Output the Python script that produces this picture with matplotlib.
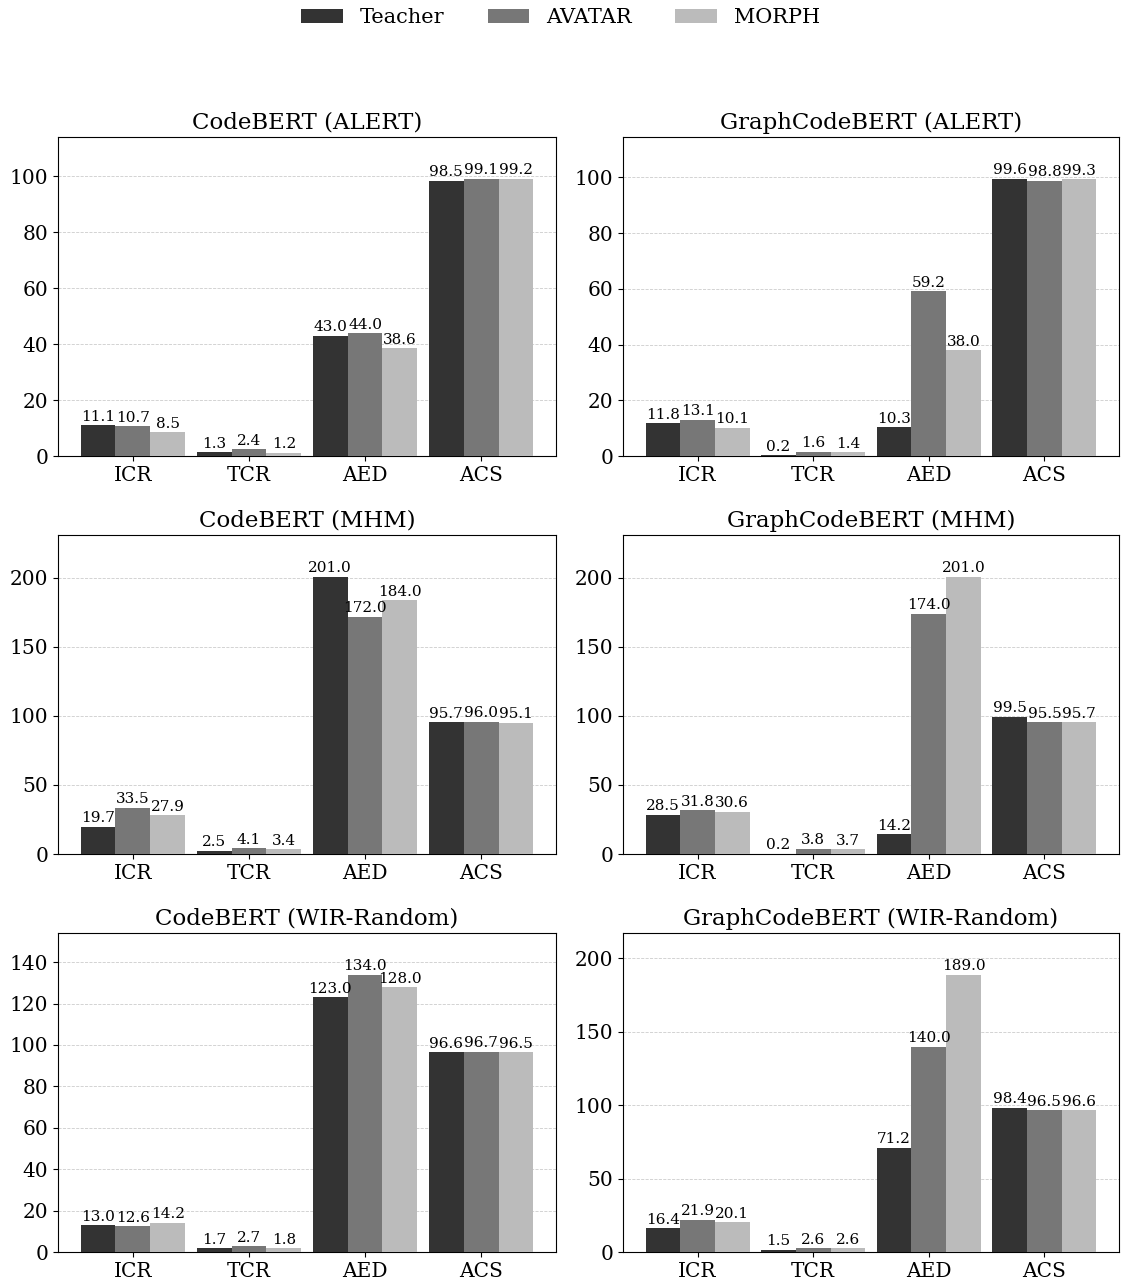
import numpy as np
import matplotlib
matplotlib.use("Agg")
import matplotlib.pyplot as plt
from matplotlib.ticker import MaxNLocator

plt.rcParams['font.family'] = 'DejaVu Serif'

# DATA
metrics = ["ICR", "TCR", "AED", "ACS"]
methods = ["Teacher", "AVATAR", "MORPH"]
colors = ["#333333", "#777777", "#bbbbbb"]

titles = ["CodeBERT (ALERT)", "GraphCodeBERT (ALERT)",
          "CodeBERT (MHM)", "GraphCodeBERT (MHM)",
          "CodeBERT (WIR-Random)", "GraphCodeBERT (WIR-Random)"]

cb_alert_teacher = [11.1, 1.3, 43.0, 98.5]
cb_alert_avatar = [10.7, 2.4, 44.0, 99.1]
cb_alert_morph = [8.5, 1.2, 38.6, 99.2]

gcb_alert_teacher = [11.8, 0.2, 10.3, 99.6]
gcb_alert_avatar = [13.1, 1.6, 59.2, 98.8]
gcb_alert_morph = [10.1, 1.4, 38.0, 99.3]

cb_mhm_teacher = [19.7, 2.5, 201.0, 95.7]
cb_mhm_avatar = [33.5, 4.1, 172.0, 96.0]
cb_mhm_morph = [27.9, 3.4, 184.0, 95.1]

gcb_mhm_teacher = [28.5, 0.2, 14.2, 99.5]
gcb_mhm_avatar = [31.8, 3.8, 174.0, 95.5]
gcb_mhm_morph = [30.6, 3.7, 201.0, 95.7]

cb_wir_teacher = [13.0, 1.7, 123.0, 96.6]
cb_wir_avatar = [12.6, 2.7, 134.0, 96.7]
cb_wir_morph = [14.2, 1.8, 128.0, 96.5]

gcb_wir_teacher = [16.4, 1.5, 71.2, 98.4]
gcb_wir_avatar = [21.9, 2.6, 140.0, 96.5]
gcb_wir_morph = [20.1, 2.6, 189.0, 96.6]

panels = [
    (cb_alert_teacher, cb_alert_avatar, cb_alert_morph),
    (gcb_alert_teacher, gcb_alert_avatar, gcb_alert_morph),
    (cb_mhm_teacher, cb_mhm_avatar, cb_mhm_morph),
    (gcb_mhm_teacher, gcb_mhm_avatar, gcb_mhm_morph),
    (cb_wir_teacher, cb_wir_avatar, cb_wir_morph),
    (gcb_wir_teacher, gcb_wir_avatar, gcb_wir_morph),
]

# LAYOUT (figure fractions)
W, H = 1121, 1285
col_x = [58 / W, 623 / W]
col_w = [498 / W, 496 / W]
row_bottom = [(H - 456) / H, (H - 854) / H, (H - 1252) / H]
row_h = 319 / H

fig = plt.figure(figsize=(W / 100, H / 100), dpi=100)

x = np.arange(len(metrics))
width = 0.3

for i, (title, series) in enumerate(zip(titles, panels)):
    r, c = divmod(i, 2)
    ax = fig.add_axes([col_x[c], row_bottom[r], col_w[c], row_h])
    for j, (vals, name, col) in enumerate(zip(series, methods, colors)):
        bars = ax.bar(x + (j - 1) * width, vals, width, color=col, label=name, zorder=3)
        ax.bar_label(bars, fmt="%.1f", fontsize=11, padding=1, zorder=4)
    top = max(max(s) for s in series)
    ax.set_ylim(0, top * 1.15)
    ax.yaxis.set_major_locator(MaxNLocator(nbins=8, steps=[1, 2, 2.5, 5, 10]))
    ax.set_xticks(x)
    ax.set_xticklabels(metrics)
    ax.tick_params(labelsize=14.5)
    ax.set_title(title, fontsize=16.5)
    ax.grid(axis="y", linestyle="--", linewidth=0.6, color="#cccccc", zorder=0)
    if i == 0:
        handles, labels = ax.get_legend_handles_labels()

fig.legend(handles, labels, loc="upper center", bbox_to_anchor=(0.5, 1.008), ncol=3,
           frameon=False, fontsize=15, handlelength=2.0, columnspacing=2.1)

fig.savefig("out.png", dpi=100)
